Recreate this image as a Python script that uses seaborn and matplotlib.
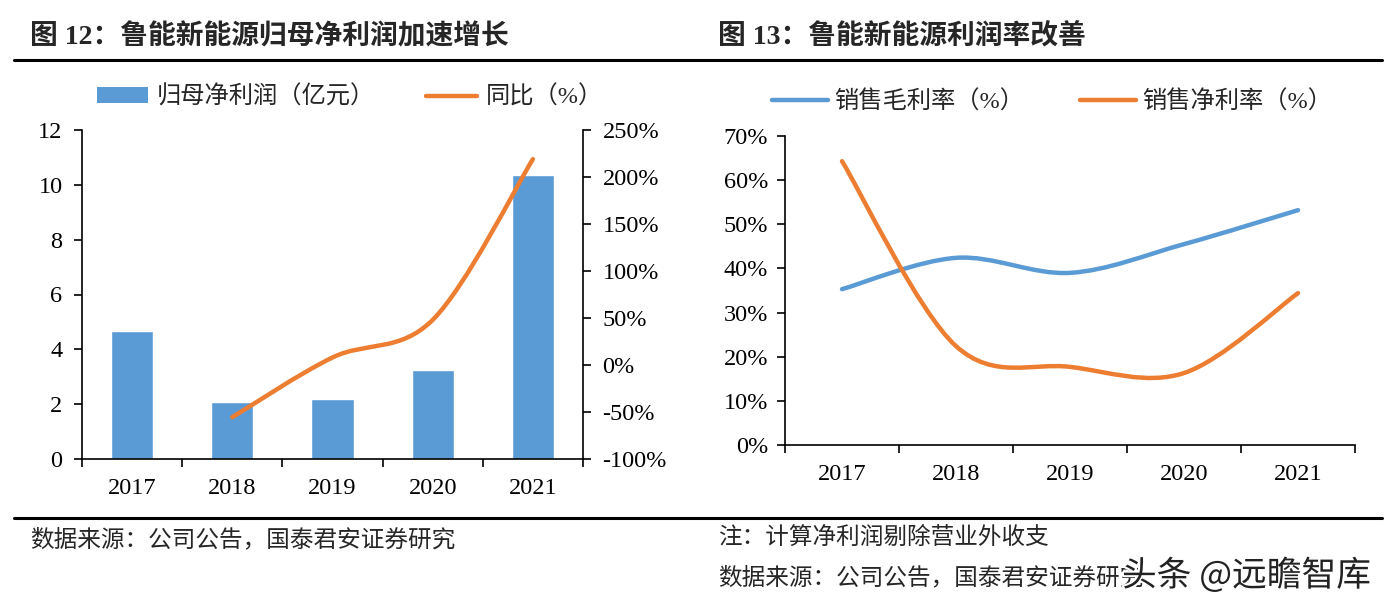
import numpy as np
import pandas as pd
import matplotlib
matplotlib.use("Agg")
import matplotlib.pyplot as plt
import seaborn as sns
from matplotlib.path import Path
from matplotlib.patches import PathPatch, Patch
from matplotlib.lines import Line2D
import matplotlib.patheffects as pe

# data
years = ["2017", "2018", "2019", "2020", "2021"]
profit = [4.67, 2.08, 2.19, 3.25, 10.36]          # 归母净利润（亿元）
yoy = [None, -0.555, 0.08, 0.48, 2.19]             # 同比
gross_margin = [0.353, 0.424, 0.390, 0.455, 0.532]  # 销售毛利率
net_margin = [0.643, 0.224, 0.177, 0.163, 0.344]    # 销售净利率

BLUE = "#5B9BD5"
ORANGE = "#ED7D31"
FONT = ["Liberation Serif", "Noto Sans CJK SC", "DejaVu Sans"]
TICK_FS = 17.5

sns.set_theme(style="ticks")
plt.rcParams["font.family"] = FONT
plt.rcParams["axes.unicode_minus"] = False


def smooth_path(xs, ys):
    # Catmull-Rom style smoothing drawn as cubic Bezier segments
    pts = np.column_stack([xs, ys]).astype(float)
    n = len(pts)
    verts = [pts[0]]
    codes = [Path.MOVETO]
    for i in range(n - 1):
        p0 = pts[i - 1] if i > 0 else pts[i]
        p1 = pts[i]
        p2 = pts[i + 1]
        p3 = pts[i + 2] if i + 2 < n else pts[i + 1]
        c1 = p1 + (p2 - p0) / 6.0
        c2 = p2 - (p3 - p1) / 6.0
        verts += [c1, c2, p2]
        codes += [Path.CURVE4] * 3
    return Path(verts, codes)


def style_x(ax, n):
    ax.set_xlim(-0.5, n - 0.5)
    ax.set_xticks(range(n))
    ax.set_xticklabels(years)
    ax.set_xticks(np.arange(-0.5, n, 1.0), minor=True)
    ax.tick_params(axis="x", which="major", length=0, pad=14, labelsize=TICK_FS, colors="black")
    ax.tick_params(axis="x", which="minor", length=6, width=1.2, direction="out", color="black")
    ax.set_xlabel("")
    ax.set_ylabel("")


fig = plt.figure(figsize=(13.95, 6.13), dpi=100)

# ---------- left panel ----------
ax1 = fig.add_axes([82 / 1395, 1 - 459 / 613, 501 / 1395, 329 / 613])
df = pd.DataFrame({"year": years, "profit": profit})
sns.barplot(data=df, x="year", y="profit", color=BLUE, saturation=1, width=0.42, ax=ax1)
ax1.set_ylim(0, 12)
ax1.set_yticks(range(0, 13, 2))
style_x(ax1, len(years))
ax1.tick_params(axis="y", length=6, width=1.2, direction="out", labelsize=TICK_FS, pad=8, colors="black")
for s in ["top", "right"]:
    ax1.spines[s].set_visible(False)
for s in ["left", "bottom"]:
    ax1.spines[s].set_color("black")
    ax1.spines[s].set_linewidth(1.2)

ax1b = ax1.twinx()
ax1b.set_ylim(-1.0, 2.5)
ax1b.set_yticks(np.arange(-1.0, 2.51, 0.5))
ax1b.set_yticklabels([f"{int(round(v * 100))}%" for v in np.arange(-1.0, 2.51, 0.5)])
ax1b.tick_params(axis="y", length=6, width=1.2, direction="out", labelsize=TICK_FS, pad=8, colors="black")
for s in ["top", "left", "bottom"]:
    ax1b.spines[s].set_visible(False)
ax1b.spines["right"].set_color("black")
ax1b.spines["right"].set_linewidth(1.2)
xs = [i for i, v in enumerate(yoy) if v is not None]
ys = [v for v in yoy if v is not None]
ax1b.add_patch(PathPatch(smooth_path(xs, ys), facecolor="none", edgecolor=ORANGE,
                         lw=3.2, capstyle="round"))
ax1.grid(False)
ax1b.grid(False)

h1 = [Patch(facecolor=BLUE, edgecolor="none"), Line2D([], [], color=ORANGE, lw=3.2)]
fig.legend(h1, ["归母净利润（亿元）", "同比（%）"], loc="center",
           bbox_to_anchor=(350 / 1395, 1 - 97 / 613), ncol=2, frameon=False,
           fontsize=17.5, handlelength=2.1, handleheight=0.6, handletextpad=0.35,
           columnspacing=2.1)

# ---------- right panel ----------
ax2 = fig.add_axes([785 / 1395, 1 - 445 / 613, 570 / 1395, 309 / 613])
ax2.set_ylim(0, 0.7)
ax2.set_yticks(np.arange(0, 0.71, 0.1))
ax2.set_yticklabels([f"{int(round(v * 100))}%" for v in np.arange(0, 0.71, 0.1)])
style_x(ax2, len(years))
ax2.tick_params(axis="y", length=6, width=1.2, direction="out", labelsize=TICK_FS, pad=6, colors="black")
for s in ["top", "right"]:
    ax2.spines[s].set_visible(False)
for s in ["left", "bottom"]:
    ax2.spines[s].set_color("black")
    ax2.spines[s].set_linewidth(1.2)
ax2.grid(False)
idx = list(range(len(years)))
ax2.add_patch(PathPatch(smooth_path(idx, gross_margin), facecolor="none", edgecolor=BLUE,
                        lw=3.2, capstyle="round"))
ax2.add_patch(PathPatch(smooth_path(idx, net_margin), facecolor="none", edgecolor=ORANGE,
                        lw=3.2, capstyle="round"))

h2 = [Line2D([], [], color=BLUE, lw=3.2), Line2D([], [], color=ORANGE, lw=3.2)]
fig.legend(h2, ["销售毛利率（%）", "销售净利率（%）"], loc="center",
           bbox_to_anchor=(1052 / 1395, 1 - 102 / 613), ncol=2, frameon=False,
           fontsize=17.5, handlelength=2.3, handletextpad=0.25, columnspacing=2.3)

# ---------- titles, rules, notes ----------
def ftext(x, y, s, **kw):
    return fig.text(x / 1395, 1 - y / 613, s, va="center", ha="left", **kw)

ftext(30, 37, "图 12：鲁能新能源归母净利润加速增长", fontsize=20, fontweight="bold")
ftext(718, 37, "图 13：鲁能新能源利润率改善", fontsize=20, fontweight="bold")
for y in (60, 518):
    fig.add_artist(Line2D([14 / 1395, 1382 / 1395], [1 - y / 613, 1 - y / 613],
                          color="black", lw=2.2))
ftext(30, 540, "数据来源：公司公告，国泰君安证券研究", fontsize=17)
ftext(718, 538, "注：计算净利润剔除营业外收支", fontsize=17)
ftext(718, 578, "数据来源：公司公告，国泰君安证券研究", fontsize=17)
wm = ftext(1122, 576, "头条 @远瞻智库", fontsize=25, color="#222222",
           family=["Noto Sans CJK SC", "DejaVu Sans"])
wm.set_path_effects([pe.withStroke(linewidth=3, foreground="white")])

fig.savefig("out.png", dpi=100)
